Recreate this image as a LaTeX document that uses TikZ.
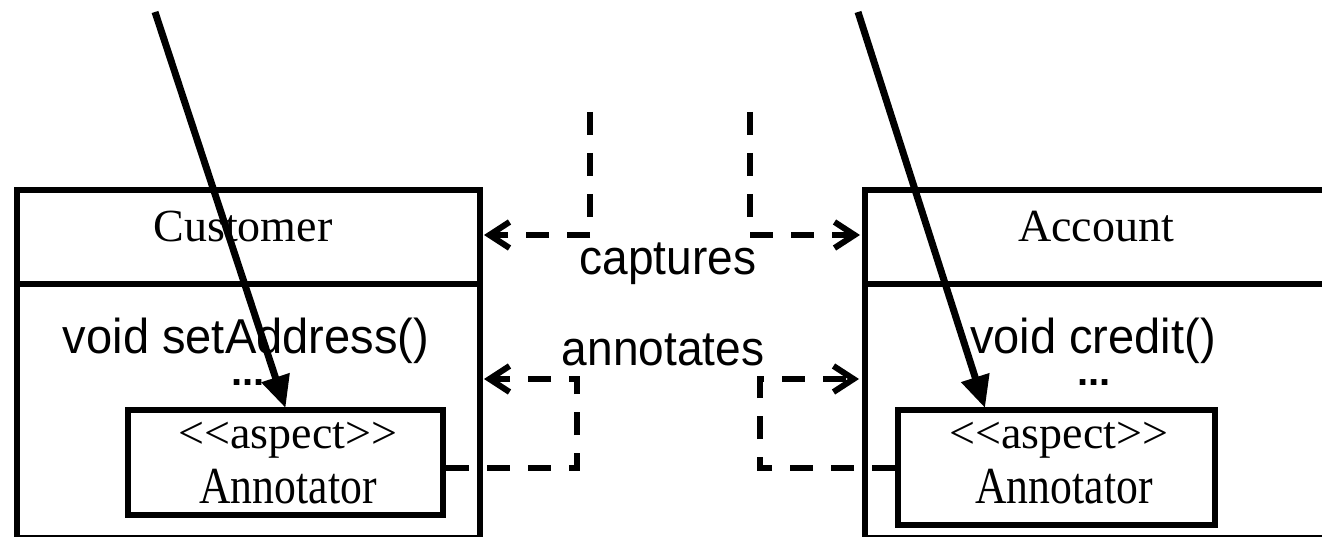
\documentclass[tikz,border=0pt]{standalone}
\usepackage{fontspec}
\setmainfont{Liberation Serif}
\setsansfont{Liberation Sans}
\usetikzlibrary{arrows.meta}
\begin{document}
\begin{tikzpicture}[x=1pt,y=-1pt,
  box/.style={draw, line width=6pt, rectangle, inner sep=0pt, anchor=north west},
  sertext/.style={font=\fontsize{46}{50}\selectfont, inner sep=0pt, anchor=base},
  santext/.style={font=\sffamily\fontsize{49}{54}\selectfont, inner sep=0pt, anchor=base},
  dots/.style={font=\sffamily\bfseries\fontsize{40}{44}\selectfont, inner sep=0pt, anchor=base},
  dashconn/.style={line width=6pt, dash pattern=on 23pt off 18pt, -{Straight Barb[length=20pt,width=26pt]}},
  longarrow/.style={line width=7pt, -{Triangle[length=32pt,width=28pt]}}
]
\clip (0,0) rectangle (1322,537);
\fill[white] (0,0) rectangle (1322,537);

% outer class boxes
\node[box, minimum width=463pt, minimum height=348pt] (cust) at (14,187) {};
\node[box, minimum width=520pt, minimum height=348pt] (acct) at (862,187) {};
\draw[line width=6pt] (cust.west |- 0,284) coordinate (custdivL) -- (cust.east |- 0,284) coordinate (custdivR);
\draw[line width=6pt] (acct.west |- 0,284) coordinate (acctdivL) -- (acct.east |- 0,284) coordinate (acctdivR);

% inner aspect boxes
\node[box, minimum width=315pt, minimum height=105pt] (annL) at (125,407) {};
\node[box, minimum width=317pt, minimum height=115pt] (annR) at (895,407) {};

% texts
\node[sertext] (custname) at (243,242) {Customer};
\node[sertext] (acctname) at (1096,242) {Account};
\node[santext] (custop) at (246,353) {\scalebox{0.96}[1]{void setAddress()}};
\node[santext] (acctop) at (1093,353) {\scalebox{0.96}[1]{void credit()}};
\node[dots] (custdots) at (248,385) {...};
\node[dots] (acctdots) at (1094,385) {...};
\node[sertext] (stereoL) at (288,448) {<\kern0pt<aspect>\kern0pt>};
\node[sertext] (stereoR) at (1059,448) {<\kern0pt<aspect>\kern0pt>};
\node[sertext, font=\fontsize{52}{56}\selectfont] (annLname) at (288,503) {\scalebox{0.84}[1]{Annotator}};
\node[sertext, font=\fontsize{52}{56}\selectfont] (annRname) at (1064,503) {\scalebox{0.84}[1]{Annotator}};
\node[santext] (captures) at (668,275) {\scalebox{0.94}[1]{captures}};
\node[santext] (annotates) at (663,365) {\scalebox{0.94}[1]{annotates}};

% long pointcut arrows
\coordinate (srcL) at (155,12);
\coordinate (srcR) at (858,12);
\coordinate (tipR) at (985,408);
\draw[longarrow] (srcL) -- ([yshift=-1pt]annL.north);
\draw[longarrow] (srcR) -- (tipR);

% captures connectors
\coordinate (capL) at (590,112);
\coordinate (capR) at (750,112);
\draw[dashconn] (capL) |- ([xshift=1pt]cust.east |- 0,235);
\draw[dashconn] (capR) |- ([xshift=-2pt]acct.west |- 0,235);

% annotates connectors
\coordinate (annLcorner) at (577,468);
\coordinate (annRcorner) at (760,468);
\draw[dashconn] (annL.east |- annLcorner) -- (annLcorner) -- (annLcorner |- 0,379) -- ([xshift=1pt]cust.east |- 0,379);
\draw[dashconn] (annR.west |- annRcorner) -- (annRcorner) -- (annRcorner |- 0,379) -- ([xshift=-3pt]acct.west |- 0,379);
\end{tikzpicture}
\end{document}
